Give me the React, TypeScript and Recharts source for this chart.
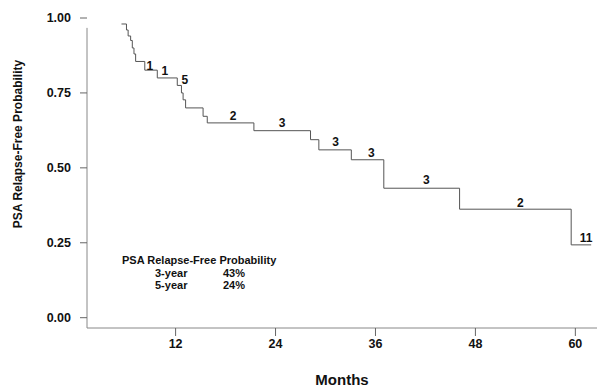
import React from 'react';
import { ComposedChart, Line, Scatter, XAxis, YAxis, ReferenceLine } from 'recharts';

// Kaplan-Meier step points (months, probability)
const months = [5.5, 6.1, 6.3, 6.6, 6.8, 7.0, 7.2, 8.3, 9.8, 12.2, 12.7, 12.9, 13.2, 15.3, 15.8, 21.4, 28.2, 29.2, 33.1, 37.0, 46.1, 59.5, 61.9];
const survival = [0.98, 0.96, 0.94, 0.925, 0.9, 0.88, 0.855, 0.826, 0.8, 0.775, 0.75, 0.727, 0.7, 0.672, 0.65, 0.624, 0.594, 0.56, 0.527, 0.432, 0.362, 0.243, 0.243];

// censored counts written above the curve
const countMonths = [8.9, 10.7, 13.1, 18.9, 24.8, 31.2, 35.5, 42.1, 53.4, 61.3];
const countValues = [0.84, 0.822, 0.794, 0.674, 0.649, 0.586, 0.549, 0.46, 0.384, 0.265];
const countLabels = ['1', '1', '5', '2', '3', '3', '3', '3', '2', '11'];

const xTicks = [12, 24, 36, 48, 60];
const yTicks = [0, 0.25, 0.5, 0.75, 1];

const X_MIN = 1.36;
const X_MAX = 62.6;
const Y_MIN = -0.0344;

const FONT = '"Liberation Sans", Arial, sans-serif';

const curveData = months.map((m, i) => ({ m, s: survival[i] }));
const countData = countMonths.map((m, i) => ({ m, v: countValues[i], t: countLabels[i] }));

const CountLabel = (props: any) => {
  const { cx, cy, payload } = props;
  return (
    <text x={cx} y={cy} textAnchor="middle" dominantBaseline="central" fontSize={12} fontWeight="bold" fill="#111" fontFamily={FONT}>
      {payload.t}
    </text>
  );
};

const Extras = () => (
  <g fontFamily={FONT} fontWeight="bold" fill="#111">
    <text transform="translate(21.5,144) rotate(-90)" textAnchor="middle" fontSize={12}>
      PSA Relapse-Free Probability
    </text>
    <text x={122} y={264} fontSize={11}>PSA Relapse-Free Probability</text>
    <text x={155} y={277} fontSize={11}>3-year</text>
    <text x={223} y={277} fontSize={11}>43%</text>
    <text x={155} y={289} fontSize={11}>5-year</text>
    <text x={223} y={289} fontSize={11}>24%</text>
  </g>
);

const App = () => {
  return (
    <div style={{ position: 'absolute', left: 0, top: 0, background: '#fff' }}>
      <ComposedChart width={597} height={389} margin={{ top: 18, right: 0, bottom: 0, left: 0 }}>
        <XAxis
          dataKey="m"
          type="number"
          domain={[X_MIN, X_MAX]}
          allowDataOverflow
          ticks={xTicks}
          height={61}
          tickSize={8}
          tickMargin={3}
          axisLine={{ stroke: '#888' }}
          tickLine={{ stroke: '#666' }}
          tick={{ fontSize: 12.5, fontWeight: 'bold', fill: '#111', fontFamily: FONT }}
          label={{ value: 'Months', position: 'insideBottom', offset: 4, fontSize: 15, fontWeight: 'bold', fill: '#111', fontFamily: FONT }}
        />
        <YAxis
          type="number"
          domain={[Y_MIN, 1]}
          allowDataOverflow
          ticks={yTicks}
          width={87}
          tickSize={7}
          tickMargin={9}
          axisLine={false}
          tickLine={{ stroke: '#666' }}
          tickFormatter={(v: number) => v.toFixed(2)}
          tick={{ fontSize: 12.5, fontWeight: 'bold', fill: '#111', fontFamily: FONT }}
          label={{ content: () => <Extras /> }}
        />
        <ReferenceLine
          segment={[{ x: X_MIN, y: Y_MIN }, { x: X_MIN, y: 0.967 }]}
          stroke="#888"
          ifOverflow="visible"
        />
        <Line
          data={curveData}
          dataKey="s"
          type="stepAfter"
          stroke="#555"
          strokeWidth={1}
          dot={false}
          activeDot={false}
          isAnimationActive={false}
        />
        <Scatter data={countData} dataKey="v" shape={CountLabel} isAnimationActive={false} />
      </ComposedChart>
    </div>
  );
};

export default App;
